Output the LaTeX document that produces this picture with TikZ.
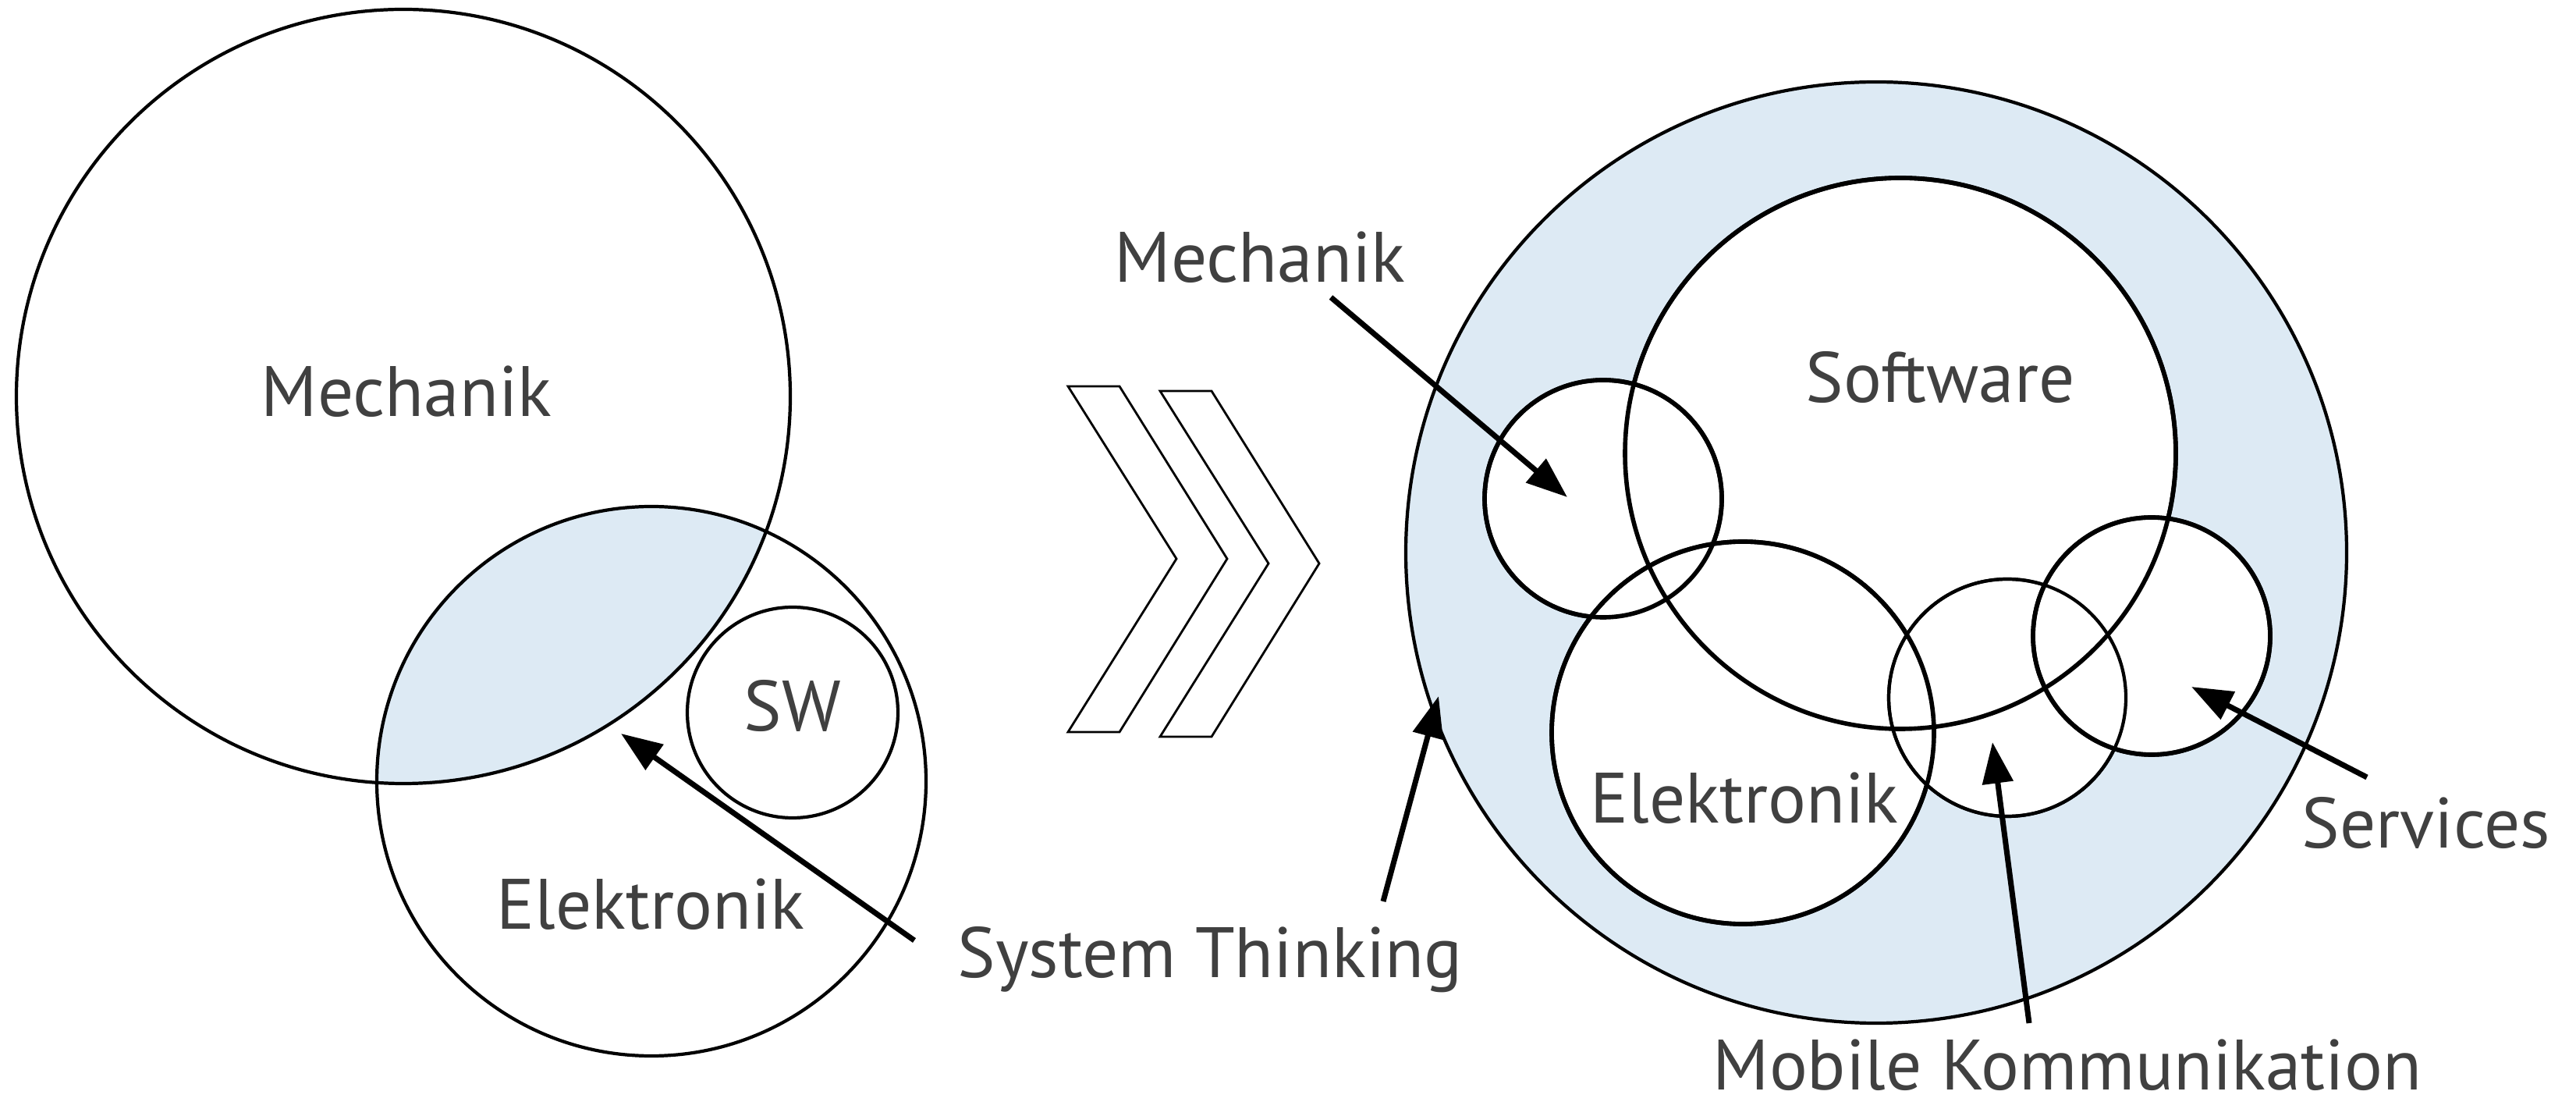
\documentclass[tikz,border=0pt]{standalone}
\usepackage{fontspec}
\setmainfont{PT Sans}
\usepackage{xcolor}
\usepackage{tikz}
\usetikzlibrary{arrows.meta}
\definecolor{lightblue}{RGB}{221,234,244}
\definecolor{textgray}{RGB}{64,64,64}

\begin{document}
\begin{tikzpicture}[
    ring/.style={circle, draw, line width=1.2pt, inner sep=0pt},
    thickring/.style={ring, line width=1.6pt},
    word/.style={anchor=base, text=textgray, inner sep=0pt, font=\fontsize{26}{30}\selectfont},
    pointer/.style={-{Triangle[length=15pt,width=11pt]}, line width=2pt},
  ]
    \useasboundingbox (0,0) rectangle (33.02,14.20);
    % left: before
    \begin{scope}
      \clip (5.17,9.12) circle (4.96);
      \fill[lightblue] (8.35,4.19) circle (3.52);
    \end{scope}
    \node[ring, minimum size=9.92cm] (mech) at (5.17,9.12) {};
    \node[ring, minimum size=7.04cm] (elek) at (8.35,4.19) {};
    \node[ring, minimum size=2.70cm] (sw) at (10.16,5.07) {};
    \node[word] (mechtext) at (5.21,8.86) {Mechanik};
    \node[word] (elektext) at (8.34,2.29) {Elektronik};
    \node[word] (swtext) at (10.16,4.83) {SW};

    % chevrons
    \foreach \dx/\dy in {0/0, 1.18/-0.06} {
      \draw[line width=0.8pt, fill=white, shift={(\dx,\dy)}]
        (13.69,9.25) -- (14.35,9.25) -- (15.73,7.04) -- (14.35,4.82)
        -- (13.69,4.82) -- (15.08,7.04) -- cycle;
    }

    % right: after
    \node[ring, fill=lightblue, minimum size=12.06cm] (sys) at (24.05,7.12) {};
    \node[thickring, fill=white, minimum size=7.06cm] (soft) at (24.36,8.39) {};
    \node[thickring, fill=white, minimum size=3.04cm] (mechR) at (20.55,7.81) {};
    \node[thickring, fill=white, minimum size=4.90cm] (elekR) at (22.34,4.81) {};
    \node[ring, fill=white, minimum size=3.04cm] (mobil) at (25.73,5.26) {};
    \node[thickring, fill=white, minimum size=3.04cm] (serv) at (27.58,6.05) {};
    \draw[line width=1.6pt] (soft.center) circle (3.53);
    \draw[line width=1.6pt] (mechR.center) circle (1.52);
    \draw[line width=1.6pt] (elekR.center) circle (2.45);
    \draw[line width=1.2pt] (mobil.center) circle (1.52);
    \draw[line width=1.6pt] (serv.center) circle (1.52);
    \node[word] (softtext) at (24.87,9.04) {Software};
    \node[word] (elekRtext) at (22.36,3.65) {Elektronik};

    % labels and pointers
    \node[word] (systext) at (15.51,1.68) {System Thinking};
    \node[word] (mechRtext) at (16.15,10.58) {Mechanik};
    \node[word] (servtext) at (31.10,3.33) {Services};
    \node[word] (mobiltext) at (26.50,0.24) {Mobile Kommunikation};
    \coordinate (stL) at (11.72,2.15);
    \coordinate (stLtip) at (7.96,4.80);
    \coordinate (stR) at (17.73,2.65);
    \coordinate (stRtip) at (18.44,5.28);
    \coordinate (mechA) at (17.06,10.39);
    \coordinate (mechtip) at (20.09,7.83);
    \coordinate (mobilA) at (26.01,1.09);
    \coordinate (mobiltip) at (25.54,4.69);
    \coordinate (servA) at (30.34,4.24);
    \coordinate (servtip) at (28.09,5.40);
    \draw[pointer] (stL) -- (stLtip);
    \draw[pointer] (stR) -- (stRtip);
    \draw[pointer] (mechA) -- (mechtip);
    \draw[pointer] (mobilA) -- (mobiltip);
    \draw[pointer] (servA) -- (servtip);
\end{tikzpicture}
\end{document}
